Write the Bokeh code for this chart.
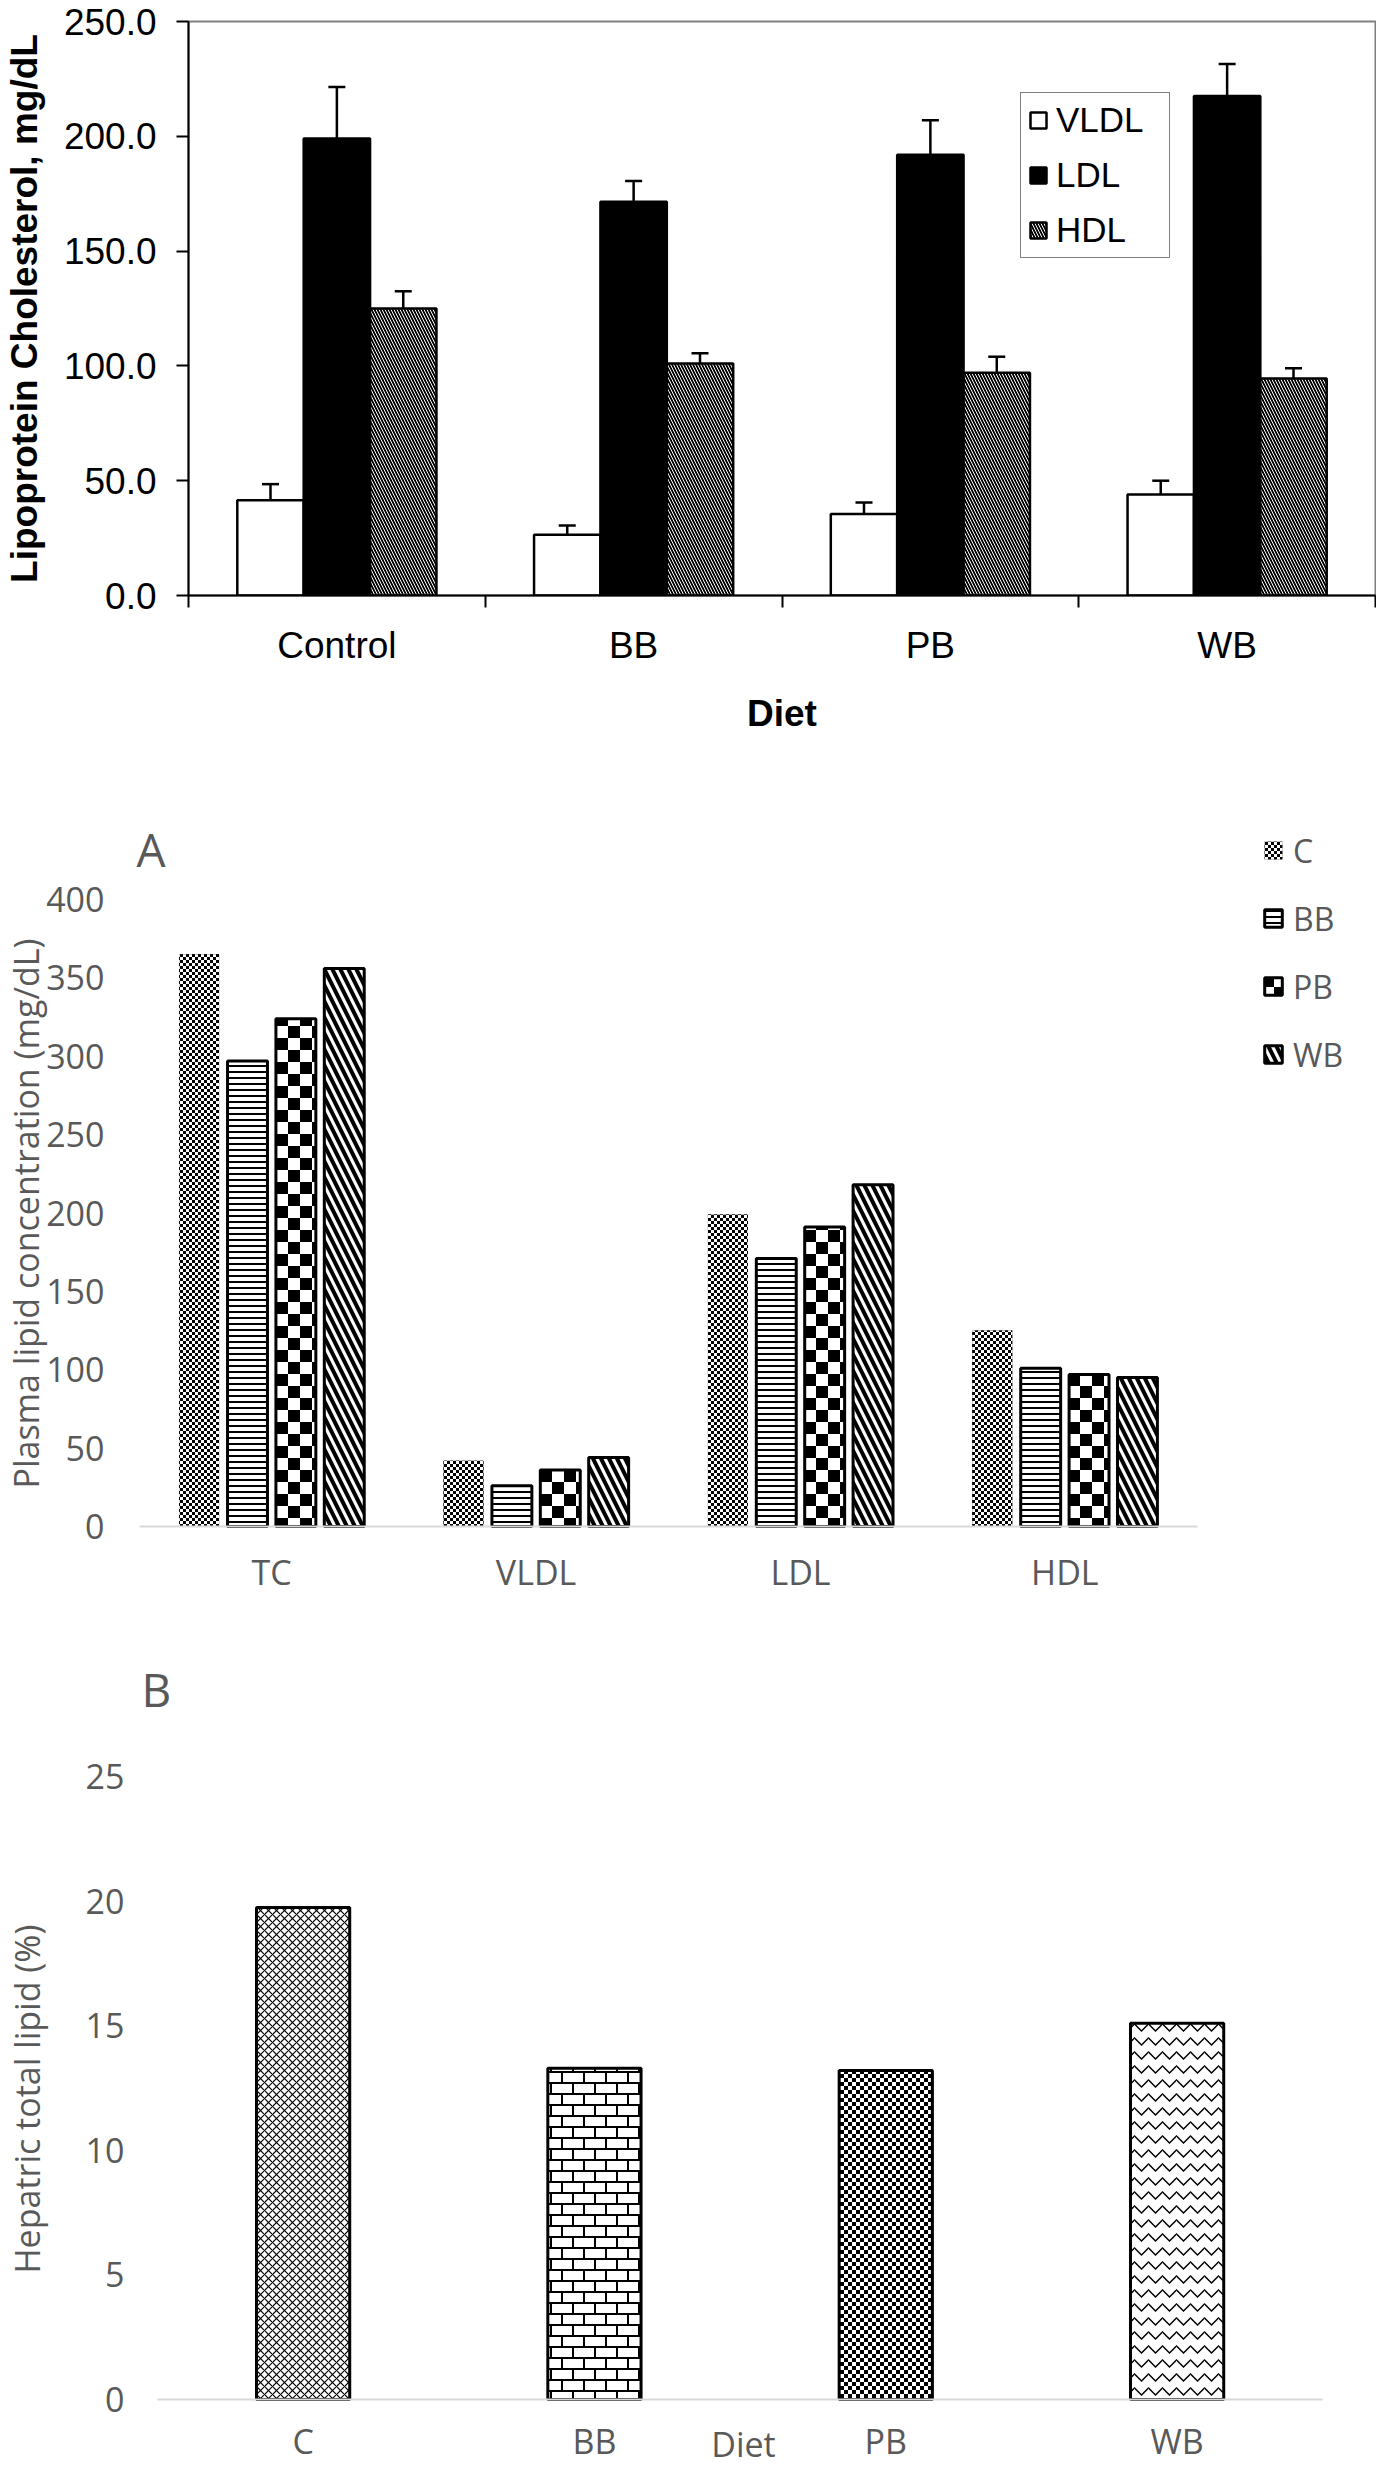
from bokeh.plotting import figure
from bokeh.layouts import column
from bokeh.models import (ColumnDataSource, FactorRange, Range1d, FixedTicker, LinearAxis,
                          CategoricalAxis, Legend, LegendItem, Label, CanvasTexture,
                          PrintfTickFormatter, Title)
from bokeh.transform import dodge
from bokeh.core.properties import value
from bokeh.embed import file_html
from bokeh.resources import INLINE

# ---------------- data: top chart (lipoprotein cholesterol, mean and SE) ----------------
diets = ["Control", "BB", "PB", "WB"]
vldl = [41.5, 26.5, 35.5, 44.0]
vldl_se = [7.0, 4.0, 5.0, 6.0]
ldl = [199.0, 171.5, 192.0, 217.5]
ldl_se = [22.5, 9.0, 15.0, 14.0]
hdl = [125.0, 101.0, 97.0, 94.5]
hdl_se = [7.5, 4.5, 7.0, 4.5]
top_ticks = [0, 50, 100, 150, 200, 250]

# ---------------- data: panel A (plasma lipids) ----------------
lipids = ["TC", "VLDL", "LDL", "HDL"]
groups = ["C", "BB", "PB", "WB"]
plasma_c = [365, 42, 199, 125]
plasma_bb = [297, 26, 171, 101]
plasma_pb = [324, 36, 191, 97]
plasma_wb = [356, 44, 218, 95]
a_ticks = [0, 50, 100, 150, 200, 250, 300, 350, 400]

# ---------------- data: panel B (hepatic total lipid) ----------------
liver_diets = ["C", "BB", "PB", "WB"]
hepatic_lipid = [19.75, 13.3, 13.2, 15.1]
b_ticks = [0, 5, 10, 15, 20, 25]

W = 1376
ARIAL = "Liberation Sans"
OPEN = "Open Sans"
GREY = "#595959"


def checker(n):
    h = n / 2
    return (f"ctx.canvas.width = {n}; ctx.canvas.height = {n};"
            f"ctx.fillStyle = '#ffffff'; ctx.fillRect(0, 0, {n}, {n});"
            f"ctx.fillStyle = '#000000'; ctx.fillRect(0, 0, {h}, {h});"
            f"ctx.fillRect({h}, {h}, {h}, {h});")


def brick(n, w):
    h = n / 2
    return (f"ctx.canvas.width = {n}; ctx.canvas.height = {n};"
            f"ctx.fillStyle = '#ffffff'; ctx.fillRect(0, 0, {n}, {n});"
            f"ctx.fillStyle = '#000000';"
            f"ctx.fillRect(0, 0, {n}, {w}); ctx.fillRect(0, {h}, {n}, {w});"
            f"ctx.fillRect(0, 0, {w}, {h}); ctx.fillRect({h}, {h}, {w}, {h});")


def tex(code):
    return CanvasTexture(code=code)


def unalign(p):
    if "frame_align" in p.properties():
        p.frame_align = False


# =============================== TOP CHART ===============================
p1 = figure(width=W, height=762, x_range=FactorRange(factors=diets), y_range=Range1d(0, 250),
            output_backend="svg", toolbar_location=None, title=None, x_axis_location=None,
            min_border_left=186, min_border_right=1, min_border_top=21, min_border_bottom=167)
unalign(p1)
p1.grid.visible = False
p1.outline_line_color = "#7f7f7f"
p1.outline_line_width = 2

ya = p1.yaxis[0]
ya.ticker = FixedTicker(ticks=top_ticks)
ya.formatter = PrintfTickFormatter(format="%.1f")
ya.major_tick_out = 12
ya.major_tick_in = 0
ya.minor_tick_out = 0
ya.minor_tick_in = 0
ya.axis_line_width = 2
ya.major_tick_line_width = 2
ya.axis_line_color = "black"
ya.major_tick_line_color = "black"
ya.major_label_text_font = ARIAL
ya.major_label_text_font_size = "37px"
ya.major_label_text_line_height = 1.0
ya.major_label_text_color = "black"
ya.major_label_standoff = 20
ya.axis_label = "Lipoprotein Cholesterol, mg/dL"
ya.axis_label_text_font = ARIAL
ya.axis_label_text_font_size = "37px"
ya.axis_label_text_line_height = 1.0
ya.axis_label_text_font_style = "bold"
ya.axis_label_text_color = "black"
ya.axis_label_standoff = 16

# boundary ticks between the diet groups (synthetic coordinates 0..4 of the factor range)
sep_axis = LinearAxis(ticker=FixedTicker(ticks=[0, 1, 2, 3, 4]),
                      major_tick_out=12, major_tick_in=0, minor_tick_out=0, minor_tick_in=0,
                      major_tick_line_width=2, axis_line_width=2, axis_line_color="black",
                      major_tick_line_color="black", major_label_text_color=None,
                      major_label_text_font_size="1px", major_label_standoff=0)
cat_axis = CategoricalAxis(axis_line_color=None, major_tick_line_color=None, major_tick_out=0,
                           major_tick_in=0, minor_tick_out=0, minor_tick_in=0,
                           major_label_standoff=17, major_label_text_font=ARIAL,
                           major_label_text_font_size="37px", major_label_text_color="black",
                           major_label_text_line_height=1.0,
                           axis_label="Diet", axis_label_text_font=ARIAL,
                           axis_label_text_font_size="37px", axis_label_text_font_style="bold",
                           axis_label_text_line_height=1.0,
                           axis_label_text_color="black", axis_label_standoff=24)
p1.add_layout(sep_axis, "below")
p1.add_layout(cat_axis, "below")

src1 = ColumnDataSource(dict(
    diet=diets, vldl=vldl, ldl=ldl, hdl=hdl,
    vldl_top=[m + e for m, e in zip(vldl, vldl_se)],
    ldl_top=[m + e for m, e in zip(ldl, ldl_se)],
    hdl_top=[m + e for m, e in zip(hdl, hdl_se)],
))
bw1 = 0.2237
specs1 = [
    ("VLDL", "vldl", -bw1, dict(fill_color="white")),
    ("LDL", "ldl", 0.0, dict(fill_color="black")),
    ("HDL", "hdl", bw1, dict(fill_color="black", hatch_pattern="\\", hatch_color="white",
                             hatch_scale=6, hatch_weight=1.0)),
]
items1 = []
for name, col, off, style in specs1:
    xs = dodge("diet", off, range=p1.x_range)
    r = p1.vbar(x=xs, top=col, bottom=0, width=bw1, source=src1, line_color="black",
                line_width=2.5, **style)
    p1.segment(x0=xs, y0=col, x1=xs, y1=col + "_top", source=src1, line_color="black",
               line_width=2.5)
    p1.scatter(x=xs, y=col + "_top", marker="dash", size=17, line_color="black",
               line_width=2.5, source=src1)
    items1.append(LegendItem(label=name, renderers=[r]))

leg1 = Legend(items=items1, location=(832, 337), glyph_width=20, glyph_height=20,
              label_standoff=8, padding=7, spacing=15, label_height=40, label_width=106,
              margin=0, border_line_color="black", border_line_width=1.5,
              background_fill_color="white", background_fill_alpha=1.0,
              label_text_font=ARIAL, label_text_font_size="35px", label_text_color="black",
              label_text_line_height=1.0)
p1.add_layout(leg1)


# ====================== helpers for the two Office-style panels ======================
def office_yaxis(p, ticks, ylabel, tick_standoff, label_standoff):
    y = p.yaxis[0]
    y.ticker = FixedTicker(ticks=ticks)
    y.axis_line_color = None
    y.major_tick_line_color = None
    y.minor_tick_line_color = None
    y.major_tick_out = 0
    y.major_tick_in = 0
    y.minor_tick_out = 0
    y.minor_tick_in = 0
    y.major_label_text_font = OPEN
    y.major_label_text_font_size = "34px"
    y.major_label_text_line_height = 1.0
    y.major_label_text_color = GREY
    y.major_label_standoff = tick_standoff
    y.axis_label = ylabel
    y.axis_label_text_font = OPEN
    y.axis_label_text_font_size = "34px"
    y.axis_label_text_line_height = 1.0
    y.axis_label_text_font_style = "normal"
    y.axis_label_text_color = GREY
    y.axis_label_standoff = label_standoff


def office_xaxis(x, names, standoff):
    centers = [i + 0.5 for i in range(len(names))]
    x.ticker = FixedTicker(ticks=centers)
    x.major_label_overrides = {c: n for c, n in zip(centers, names)}
    x.bounds = (0, len(names))
    x.axis_line_color = "#d9d9d9"
    x.axis_line_width = 2
    x.major_tick_line_color = None
    x.minor_tick_line_color = None
    x.major_tick_out = 0
    x.major_tick_in = 0
    x.minor_tick_out = 0
    x.minor_tick_in = 0
    x.major_label_text_font = OPEN
    x.major_label_text_font_size = "34px"
    x.major_label_text_line_height = 1.0
    x.major_label_text_color = GREY
    x.major_label_standoff = standoff


# =============================== PANEL A ===============================
# frame: page x 138..1384, y 815..1627 ; value 0 at 1534, 400 at 907 ; 265 px per lipid
pA = figure(width=W, height=880, x_range=Range1d(-0.0189, 4.6787),
            y_range=Range1d(-59.33, 458.7), output_backend="svg", toolbar_location=None,
            title=None, x_axis_location=None,
            min_border_left=130, min_border_right=0, min_border_top=45, min_border_bottom=23)
unalign(pA)
pA.grid.visible = False
pA.outline_line_color = None
office_yaxis(pA, a_ticks, "Plasma lipid concentration (mg/dL)", 30, -6)
xa = LinearAxis(fixed_location=0)
office_xaxis(xa, lipids, 22)
pA.add_layout(xa, "below")

srcA = ColumnDataSource(dict(pos=[i + 0.5 for i in range(len(lipids))], lipid=lipids,
                             C=plasma_c, BB=plasma_bb, PB=plasma_pb, WB=plasma_wb))
bwA = 0.151
pitchA = 0.183
stylesA = {
    "C": dict(fill_color="black", line_color=None, hatch_pattern=value("fine_checker"),
              hatch_extra={"fine_checker": tex(checker(6))}),
    "BB": dict(fill_color="white", line_color="black", line_width=3, hatch_pattern="-",
               hatch_color="black", hatch_scale=6, hatch_weight=2),
    "PB": dict(fill_color="white", line_color="black", line_width=3,
               hatch_pattern=value("big_checker"), hatch_extra={"big_checker": tex(checker(24))}),
    "WB": dict(fill_color="white", line_color="black", line_width=3, hatch_pattern="\\",
               hatch_color="black", hatch_scale=16, hatch_weight=4),
}
itemsA = []
for i, g in enumerate(groups):
    off = (i - 1.5) * pitchA
    r = pA.vbar(x=dodge("pos", off), top=g, bottom=0, width=bwA, source=srcA, **stylesA[g])
    itemsA.append(LegendItem(label=g, renderers=[r]))

legA = Legend(items=itemsA, location=(1128, 543), glyph_width=22, glyph_height=22,
              label_standoff=9, padding=0, spacing=24, label_height=44, margin=0,
              border_line_color=None, background_fill_alpha=0.0,
              label_text_font=OPEN, label_text_font_size="32px", label_text_color=GREY,
              label_text_line_height=1.0)
pA.add_layout(legA)
pA.add_layout(Label(x=2, y=771, x_units="screen", y_units="screen", text="A",
                    text_font=OPEN, text_font_size="46px", text_color=GREY,
                    text_baseline="alphabetic"))

# =============================== PANEL B ===============================
# frame: page x 143..1384, y 1740..2473 ; value 0 at 2407, 25 at 1784 ; 293 px per diet
pB = figure(width=W, height=823, x_range=Range1d(-0.0547, 4.1844),
            y_range=Range1d(-2.648, 26.77), output_backend="svg", toolbar_location=None,
            x_axis_location=None,
            min_border_left=135, min_border_right=0, min_border_top=90, min_border_bottom=0)
unalign(pB)
tB = Title(text="B", align="left", offset=0, standoff=26, vertical_align="bottom",
           text_font=OPEN, text_font_size="46px", text_font_style="normal", text_color=GREY)
if "text_line_height" in tB.properties():
    tB.text_line_height = 1.0
pB.title = tB
pB.grid.visible = False
pB.outline_line_color = None
office_yaxis(pB, b_ticks, "Hepatric total lipid (%)", 17, 33)
xb = LinearAxis(fixed_location=0)
office_xaxis(xb, liver_diets, 18)
pB.add_layout(xb, "below")

stylesB = [
    dict(fill_color="white", hatch_pattern="x", hatch_color="black", hatch_scale=8,
         hatch_weight=1.2),
    dict(fill_color="white", hatch_pattern=value("brick"), hatch_extra={"brick": tex(brick(22, 2))}),
    dict(fill_color="white", hatch_pattern=value("small_checker"),
         hatch_extra={"small_checker": tex(checker(8))}),
    dict(fill_color="white", hatch_pattern="v", hatch_color="black", hatch_scale=14,
         hatch_weight=1.5),
]
for i, d in enumerate(liver_diets):
    srcB = ColumnDataSource(dict(pos=[i + 0.5], diet=[d], val=[hepatic_lipid[i]]))
    pB.vbar(x="pos", top="val", bottom=0, width=0.32, source=srcB, line_color="black",
            line_width=3, **stylesB[i])

pB.add_layout(Label(x=602, y=22, x_units="screen", y_units="screen", text="Diet",
                    text_font=OPEN, text_font_size="34px", text_color=GREY,
                    text_align="center", text_baseline="alphabetic"))

layout = column(p1, pA, pB)
open("out.html", "w").write(file_html(layout, INLINE))
